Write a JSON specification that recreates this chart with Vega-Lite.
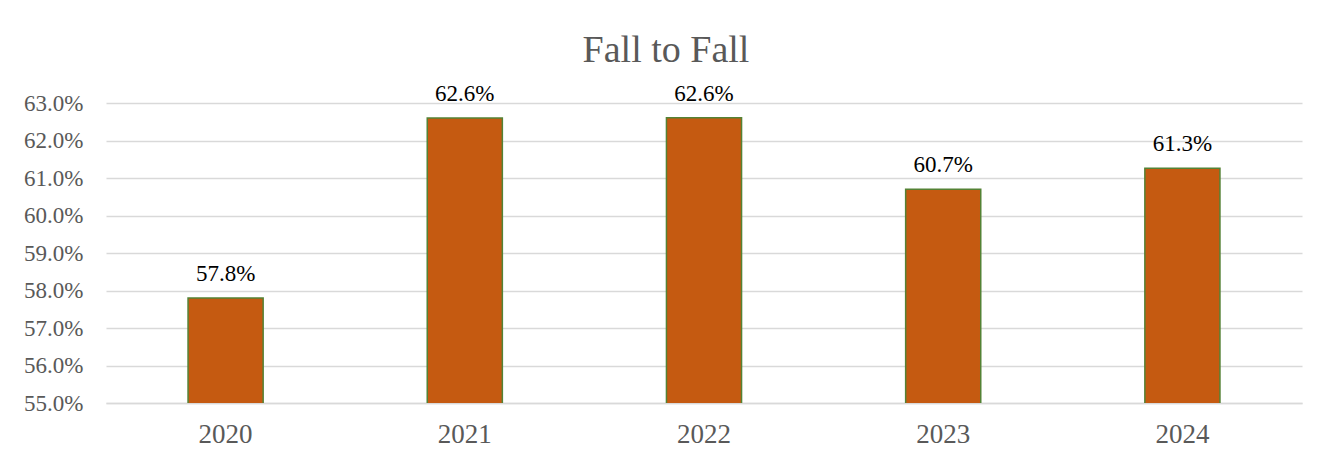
{
  "$schema": "https://vega.github.io/schema/vega-lite/v6.json",
  "autosize": {"type": "none"},
  "width": 1196,
  "height": 300,
  "padding": {"left": 106, "top": 103, "right": 28, "bottom": 60},
  "background": "white",
  "title": {
    "text": "Fall to Fall",
    "font": "Liberation Serif",
    "fontSize": 38,
    "fontWeight": "normal",
    "color": "#595959",
    "anchor": "middle",
    "frame": "group",
    "dx": -38,
    "offset": 13
  },
  "data": {
    "values": [
      {"year": "2020", "rate": 57.8},
      {"year": "2021", "rate": 62.6},
      {"year": "2022", "rate": 62.61},
      {"year": "2023", "rate": 60.7},
      {"year": "2024", "rate": 61.26}
    ]
  },
  "encoding": {
    "x": {
      "field": "year",
      "type": "ordinal",
      "scale": {"paddingInner": 0.686, "paddingOuter": 0.343},
      "axis": {
        "title": null,
        "labelAngle": 0,
        "labelFont": "Liberation Serif",
        "labelFontSize": 27,
        "labelColor": "#595959",
        "ticks": false,
        "labelPadding": 18,
        "domainColor": "#d9d9d9",
        "domainWidth": 1.5
      }
    },
    "y": {
      "field": "rate",
      "type": "quantitative",
      "scale": {"domain": [55, 63], "nice": false, "zero": false},
      "axis": {
        "title": null,
        "values": [55, 56, 57, 58, 59, 60, 61, 62, 63],
        "labelExpr": "format(datum.value, '.1f') + '%'",
        "labelFont": "Liberation Serif",
        "labelFontSize": 23,
        "labelColor": "#595959",
        "ticks": false,
        "domain": false,
        "labelPadding": 23,
        "gridColor": "#d9d9d9",
        "gridWidth": 1.5
      }
    }
  },
  "layer": [
    {
      "mark": {"type": "bar", "color": "#C55A11", "stroke": "#548235", "strokeWidth": 1.5, "clip": true}
    },
    {
      "mark": {
        "type": "text",
        "font": "Liberation Serif",
        "fontSize": 23,
        "color": "#000000",
        "baseline": "alphabetic",
        "dy": -17,
        "text": {"expr": "format(datum.rate, '.1f') + '%'"}
      }
    }
  ],
  "config": {
    "font": "Liberation Serif",
    "text": {"font": "Liberation Serif"},
    "view": {"stroke": null}
  }
}
